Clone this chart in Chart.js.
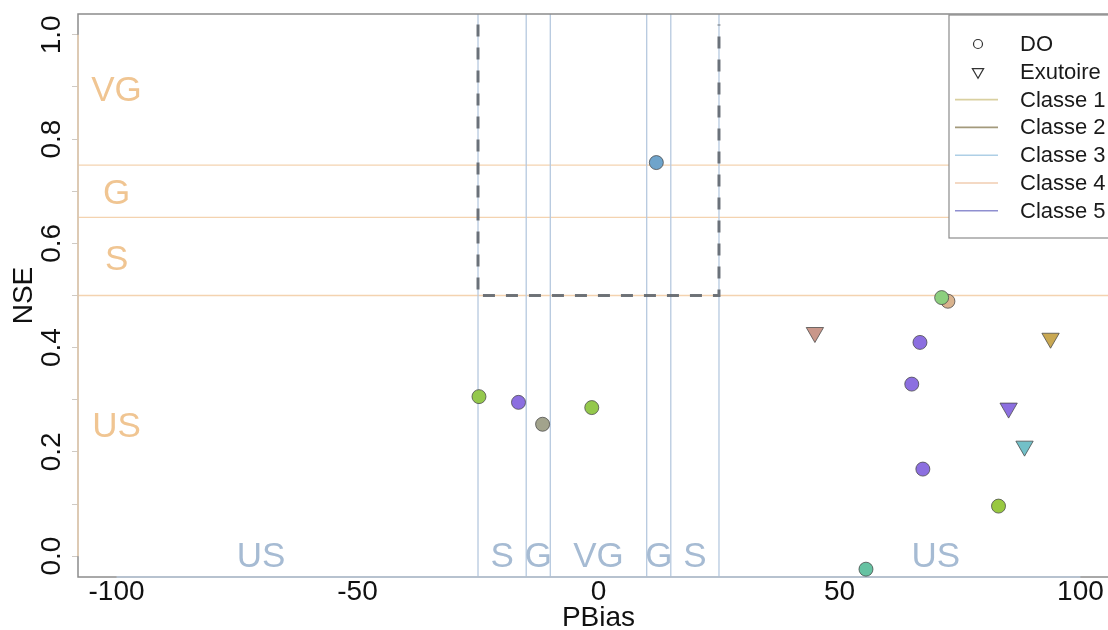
<!DOCTYPE html>
<html><head><meta charset="utf-8">
<script src="https://cdn.jsdelivr.net/npm/chart.js@4.4.1/dist/chart.umd.min.js"></script>
<style>
html,body{margin:0;padding:0;overflow:hidden;background:#fff;width:1108px;height:630px}
#wrap{position:absolute;left:0;top:0;width:1130px;height:630px}
</style>
</head><body><div id="wrap"><canvas id="c" width="1130" height="630"></canvas></div>
<script>
// ---- data ----
const doPBias  = [12.0, -24.8, -16.6, -11.6, -1.4, 72.5, 71.2, 66.7, 65.0, 67.3, 83.0, 55.5];
const doNSE    = [0.755, 0.306, 0.295, 0.253, 0.285, 0.489, 0.496, 0.410, 0.330, 0.167, 0.096, -0.025];
const doColors = ['#6fa4cb','#94c84c','#8c6fe0','#a2a38c','#94c84c','#d9b38e','#8ccf7e','#8c6fe0','#8c6fe0','#8c6fe0','#98c840','#66c2a2'];
const exPBias  = [44.9, 93.8, 85.1, 88.4];
const exNSE    = [0.429, 0.418, 0.284, 0.211];
const exColors = ['#c9978a','#c9a852','#8c6fe0','#72c0c8'];

const xTickValues = [-100, -50, 0, 50, 100];
const xTickLabels = ['-100', '-50', '0', '50', '100'];
const yTickValues = [0, 0.1, 0.2, 0.3, 0.4, 0.5, 0.6, 0.7, 0.8, 0.9, 1.0];
const yTickLabels = ['0.0', '', '0.2', '', '0.4', '', '0.6', '', '0.8', '', '1.0'];

const nseThresholds = [0.5, 0.65, 0.75];
const pbThresholds  = [-25, -15, -10, 10, 15, 25];
const nseClassLabels = ['VG', 'G', 'S', 'US'];
const nseClassPos    = [0.897, 0.699, 0.573, 0.253];
const pbClassLabels  = ['US', 'S', 'G', 'VG', 'G', 'S', 'US'];
const pbClassPos     = [-70, -20, -12.5, 0, 12.5, 20, 70];
const pbClassNSE     = 0.004;
const targetBoxPB  = [-25, 25];
const targetBoxNSE = [0.5, 1.02];

const legendLabels = ['DO', 'Exutoire', 'Classe 1', 'Classe 2', 'Classe 3', 'Classe 4', 'Classe 5'];
const classColors  = ['#d9d0a0', '#a39a7c', '#aecfe6', '#f0cdb0', '#8f8fd0'];

// ---- styles ----
const FONT = '"Liberation Sans", Arial, Helvetica, sans-serif';
const nseLineColor = '#f4d3b0';
const pbLineColor  = '#b6c9df';
const nseTextColor = '#f0c592';
const pbTextColor  = '#a6bbd3';
const LABEL_SIZE = 35;

const refPlugin = {
  id: 'ref',
  beforeDatasetsDraw(chart) {
    const {ctx, chartArea: a, scales: {x, y}} = chart;
    ctx.save();
    ctx.beginPath(); ctx.rect(a.left, a.top, a.right - a.left, a.bottom - a.top); ctx.clip();
    ctx.lineWidth = 1.3;
    ctx.strokeStyle = nseLineColor;
    nseThresholds.forEach(v => { const p = y.getPixelForValue(v); ctx.beginPath(); ctx.moveTo(a.left, p); ctx.lineTo(a.right, p); ctx.stroke(); });
    ctx.strokeStyle = pbLineColor;
    pbThresholds.forEach(v => { const p = x.getPixelForValue(v); ctx.beginPath(); ctx.moveTo(p, a.top); ctx.lineTo(p, a.bottom); ctx.stroke(); });
    // dashed target box
    ctx.strokeStyle = 'rgba(95,102,110,0.9)';
    ctx.lineWidth = 3;
    ctx.setLineDash([12, 11]);
    const bx0 = x.getPixelForValue(targetBoxPB[0]), bx1 = x.getPixelForValue(targetBoxPB[1]);
    const by0 = y.getPixelForValue(targetBoxNSE[0]), by1 = y.getPixelForValue(targetBoxNSE[1]);
    ctx.beginPath(); ctx.moveTo(bx0, by1); ctx.lineTo(bx0, by0); ctx.lineTo(bx1, by0); ctx.lineTo(bx1, by1); ctx.stroke();
    ctx.setLineDash([]);
    // class labels (centred on the cap height)
    const capOff = LABEL_SIZE * 0.358;
    ctx.font = LABEL_SIZE + 'px ' + FONT;
    ctx.textAlign = 'center'; ctx.textBaseline = 'alphabetic';
    ctx.fillStyle = nseTextColor;
    nseClassLabels.forEach((t, i) => ctx.fillText(t, x.getPixelForValue(-100), y.getPixelForValue(nseClassPos[i]) + capOff));
    ctx.fillStyle = pbTextColor;
    pbClassLabels.forEach((t, i) => ctx.fillText(t, x.getPixelForValue(pbClassPos[i]), y.getPixelForValue(pbClassNSE) + capOff));
    ctx.restore();
    // plot box + axis lines
    ctx.save();
    ctx.lineWidth = 1.5;
    ctx.strokeStyle = '#8c8c8c';
    ctx.strokeRect(a.left, a.top, a.right - a.left, a.bottom - a.top);
    ctx.strokeStyle = '#efd6b8';
    ctx.beginPath(); ctx.moveTo(a.left, y.getPixelForValue(0)); ctx.lineTo(a.left, y.getPixelForValue(1)); ctx.stroke();
    ctx.strokeStyle = '#bccbdc';
    ctx.beginPath(); ctx.moveTo(x.getPixelForValue(-100), a.bottom); ctx.lineTo(x.getPixelForValue(100), a.bottom); ctx.stroke();
    ctx.restore();
  },
  afterDatasetsDraw(chart) {
    const {ctx, chartArea: a} = chart;
    const L = a.left + 871, T = a.top + 1, R = a.right - 1, B = a.top + 224;
    ctx.save();
    ctx.fillStyle = '#fff';
    ctx.fillRect(L, T, R - L, B - T);
    ctx.strokeStyle = '#8c8c8c'; ctx.lineWidth = 1.2;
    ctx.strokeRect(L, T, R - L, B - T);
    const rowH = 27.8, y0 = T + 29;
    ctx.font = '22px ' + FONT;
    ctx.textAlign = 'left'; ctx.textBaseline = 'middle';
    legendLabels.forEach((t, i) => {
      const yy = y0 + i * rowH;
      if (i === 0) {
        ctx.strokeStyle = '#333'; ctx.lineWidth = 1.2;
        ctx.beginPath(); ctx.arc(L + 29, yy, 4.5, 0, Math.PI * 2); ctx.stroke();
      } else if (i === 1) {
        ctx.fillStyle = 'rgba(0,0,0,0)';
        ctx.strokeStyle = '#333';
        Chart.helpers.drawPoint(ctx, {pointStyle: 'triangle', rotation: 180, radius: 6.5, borderWidth: 1.2}, L + 29, yy);
      } else {
        ctx.strokeStyle = classColors[i - 2]; ctx.lineWidth = 1.6;
        ctx.beginPath(); ctx.moveTo(L + 6, yy); ctx.lineTo(L + 49, yy); ctx.stroke();
      }
      ctx.fillStyle = '#1a1a1a';
      ctx.fillText(t, L + 71, yy + 1);
    });
    ctx.restore();
  }
};

const chart = new Chart(document.getElementById('c'), {
  type: 'scatter',
  data: {
    datasets: [
      {
        label: 'DO',
        data: doPBias.map((v, i) => ({x: v, y: doNSE[i]})),
        pointStyle: 'circle',
        pointRadius: 7, pointHoverRadius: 7,
        backgroundColor: doColors, borderColor: 'rgba(70,70,70,0.75)', borderWidth: 1
      },
      {
        label: 'Exutoire',
        data: exPBias.map((v, i) => ({x: v, y: exNSE[i]})),
        pointStyle: 'triangle', rotation: 180,
        pointRadius: 10, pointHoverRadius: 10,
        backgroundColor: exColors, borderColor: 'rgba(70,70,70,0.75)', borderWidth: 1
      }
    ]
  },
  options: {
    responsive: false,
    animation: false,
    events: [],
    layout: {padding: {left: 0, top: 14, right: 8, bottom: 0}},
    plugins: {legend: {display: false}, tooltip: {enabled: false}},
    scales: {
      x: {
        type: 'linear', min: -108, max: 108,
        afterBuildTicks: s => { s.ticks = xTickValues.map(v => ({value: v})); },
        afterFit: s => { s.height = 53; },
        grid: {display: false, drawTicks: false},
        border: {display: false},
        ticks: {autoSkip: false, maxRotation: 0, padding: 1, color: '#111',
                font: {family: FONT, size: 28, lineHeight: 1},
                callback: (v, i) => xTickLabels[i]},
        title: {display: true, text: 'PBias', color: '#111', padding: {top: 0, bottom: 0},
                font: {family: FONT, size: 28, lineHeight: 0.85}}
      },
      y: {
        type: 'linear', min: -0.04, max: 1.04,
        afterBuildTicks: s => { s.ticks = yTickValues.map(v => ({value: v})); },
        afterFit: s => { s.width = 78; },
        grid: {display: true, drawOnChartArea: false, drawTicks: true, tickLength: 6, tickColor: '#cfcac4', lineWidth: 1},
        border: {display: false},
        ticks: {autoSkip: false, minRotation: 90, maxRotation: 90, crossAlign: 'center', padding: 0, color: '#111',
                font: {family: FONT, size: 28, lineHeight: 1},
                callback: (v, i) => yTickLabels[i]},
        title: {display: true, text: 'NSE', color: '#111', padding: {top: 7, bottom: 0},
                font: {family: FONT, size: 28, lineHeight: 1.2}}
      }
    }
  },
  plugins: [refPlugin]
});
</script>
</body></html>
